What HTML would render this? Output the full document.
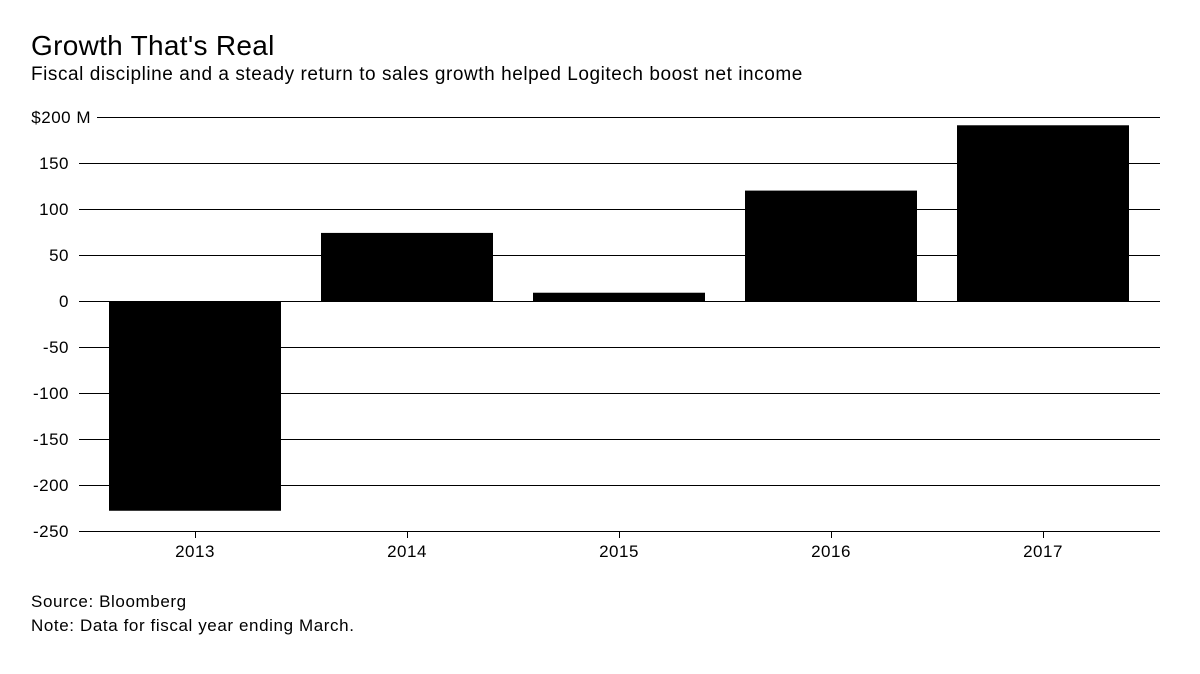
<!DOCTYPE html>
<html><head><meta charset="utf-8"><style>
body{margin:0;background:#fff;width:1200px;height:669px;overflow:hidden;font-family:"Liberation Sans",sans-serif;}
</style></head><body>
<svg width="1200" height="669">
<text x="31" y="55" font-size="28" letter-spacing="0.3" fill="#000">Growth That's Real</text>
<text x="31" y="80" font-size="19" letter-spacing="0.55" fill="#000">Fiscal discipline and a steady return to sales growth helped Logitech boost net income</text>
<g id="grid"></g>
<g id="bars"></g>
<g id="xaxis"></g>
<text x="31" y="607" font-size="17" letter-spacing="0.6" fill="#000">Source: Bloomberg</text>
<text x="31" y="631" font-size="17" letter-spacing="0.6" fill="#000">Note: Data for fiscal year ending March.</text>
</svg>
<script>
const categories=["2013","2014","2015","2016","2017"];
const values=[-228,74,9,120,191];
const ticks=[200,150,100,50,0,-50,-100,-150,-200,-250];
const tickLabels=["$200 M","150","100","50","0","-50","-100","-150","-200","-250"];
const NS="http://www.w3.org/2000/svg";
function y(v){return 301-v*0.92;}
function xc(i){return 195+i*212;}
function mk(t,a,p){const e=document.createElementNS(NS,t);for(const k in a)e.setAttribute(k,a[k]);p.appendChild(e);return e;}
const g=document.getElementById('grid'),b=document.getElementById('bars'),xa=document.getElementById('xaxis');
ticks.forEach((v,i)=>{
 const x1=i===0?97:79;
 const yy=Math.round(y(v))+0.5;
 const l=mk('line',{x1:x1,x2:1160,y1:yy,y2:yy,stroke:'#000','stroke-width':1},g);
 
 
 const t=mk('text',{x:i===0?91:69,y:y(v)+6,'text-anchor':'end','font-size':17,'letter-spacing':0.5},g);
 t.textContent=tickLabels[i];
 
 
});
categories.forEach((c,i)=>{
 const v=values[i];
 const r=mk('rect',{x:xc(i)-86,width:172,y:Math.min(y(v),y(0)),height:Math.abs(y(v)-y(0)),fill:'#000'},b);
 
 
 const tx=xc(i)+0.5;
 const tk=mk('line',{x1:tx,x2:tx,y1:y(-250),y2:y(-250)+7,stroke:'#000'},xa);
 
 
 const t=mk('text',{x:xc(i),y:557,'text-anchor':'middle','font-size':17,'letter-spacing':0.5},xa);
 t.textContent=c;
 
 
});
</script>
</body></html>
